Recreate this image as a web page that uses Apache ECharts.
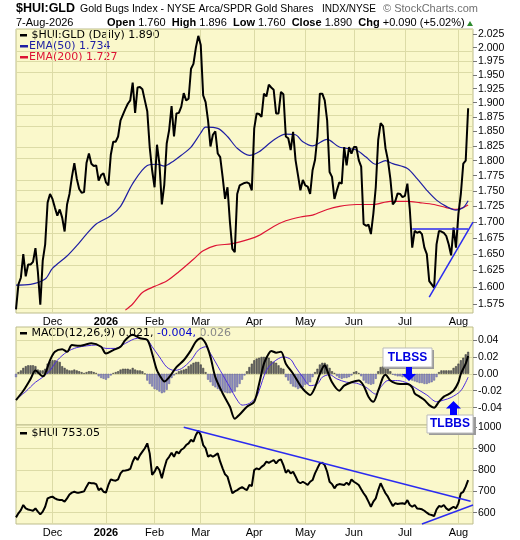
<!DOCTYPE html>
<html><head><meta charset="utf-8">
<script src="https://cdn.jsdelivr.net/npm/echarts@6/dist/echarts.min.js"></script>
<style>html,body{margin:0;padding:0;background:#fff;}#c{width:520px;height:540px;}</style>
</head><body><div id="c"></div>
<script>
// ---------- axis / categories ----------
const startDate = '2025-11-07';
const endDate = '2026-08-11';
const holidays = ['2025-11-27','2025-12-25','2026-01-01','2026-01-19','2026-02-16','2026-04-03','2026-05-25','2026-06-19','2026-07-03'];
const monthNames = ['Jan','Feb','Mar','Apr','May','Jun','Jul','Aug','Sep','Oct','Nov','Dec'];
const priceTicks = [1.575,1.600,1.625,1.650,1.675,1.700,1.725,1.750,1.775,1.800,1.825,1.850,1.875,1.900,1.925,1.950,1.975,2.000,2.025];
const macdTicks = [-0.04,-0.02,0,0.02,0.04];
const huiTicks = [600,700,800,900,1000];

// ---------- data ----------
const ratio = [1.567,1.604,1.614,1.650,1.616,1.634,1.634,1.638,1.659,1.623,1.574,1.640,1.665,1.731,1.745,1.737,1.723,1.710,1.720,1.707,
1.685,1.728,1.745,1.773,1.796,1.770,1.753,1.747,1.748,1.796,1.812,1.795,1.791,1.792,1.767,1.776,1.779,1.764,1.759,1.810,
1.832,1.832,1.841,1.869,1.879,1.889,1.898,1.904,1.936,1.882,1.927,1.928,1.924,1.904,1.885,1.823,1.784,1.756,1.827,1.795,
1.728,1.760,1.829,1.852,1.894,1.841,1.881,1.882,1.893,1.917,1.904,1.907,1.961,1.970,2.000,2.022,2.005,1.913,1.901,1.869,
1.824,1.844,1.850,1.812,1.806,1.773,1.737,1.756,1.700,1.658,1.653,1.745,1.759,1.761,1.763,1.764,1.762,1.751,1.855,1.881,
1.880,1.875,1.916,1.911,1.932,1.927,1.923,1.881,1.881,1.919,1.915,1.841,1.838,1.818,1.849,1.801,1.776,1.751,1.768,1.759,
1.757,1.745,1.784,1.801,1.841,1.916,1.916,1.904,1.869,1.781,1.773,1.737,1.751,1.764,1.762,1.823,1.792,1.823,1.812,1.823,
1.823,1.801,1.790,1.697,1.694,1.696,1.681,1.713,1.756,1.835,1.864,1.859,1.821,1.801,1.770,1.728,1.733,1.746,1.745,1.740,
1.742,1.762,1.720,1.660,1.686,1.683,1.685,1.681,1.660,1.650,1.609,1.604,1.599,1.665,1.686,1.685,1.683,1.678,1.665,1.648,
1.691,1.660,1.713,1.745,1.795,1.800,1.890];

const ema50 = [[0,1.603],[6,1.604],[12,1.612],[15,1.628],[21,1.647],[25,1.663],[29,1.681],[33,1.697],[39,1.710],[43,1.725],
[48,1.762],[54,1.792],[58,1.794],[61,1.791],[65,1.800],[68,1.809],[72,1.823],[76,1.847],[78,1.857],[83,1.855],[87,1.841],
[91,1.821],[96,1.809],[100,1.815],[106,1.835],[111,1.845],[115,1.844],[118,1.832],[122,1.825],[128,1.836],[133,1.823],
[140,1.818],[144,1.806],[148,1.794],[152,1.800],[155,1.795],[161,1.787],[165,1.770],[169,1.751],[173,1.735],[177,1.725],
[181,1.719],[184,1.723],[186,1.734]];

const ema200 = [[45,1.566],[48,1.575],[52,1.592],[57,1.601],[62,1.609],[67,1.623],[73,1.642],[77,1.655],[82,1.663],[89,1.666],
[96,1.673],[100,1.679],[106,1.693],[111,1.702],[117,1.708],[122,1.711],[128,1.720],[133,1.725],[140,1.728],[147,1.728],
[154,1.733],[161,1.733],[166,1.731],[172,1.728],[177,1.723],[181,1.720],[184,1.723],[186,1.727]];

const macd = [[0,-0.031],[3,-0.020],[6,-0.006],[8,0.004],[11,-0.003],[12,0.000],[14,0.016],[16,0.026],[19,0.029],[21,0.026],
[23,0.034],[26,0.033],[28,0.034],[31,0.036],[35,0.032],[37,0.024],[40,0.028],[43,0.032],[45,0.040],[48,0.046],[51,0.042],
[54,0.040],[56,0.024],[58,0.004],[60,-0.006],[61,-0.009],[63,-0.004],[66,0.008],[69,0.016],[72,0.028],[74,0.038],[76,0.042],
[78,0.036],[80,0.020],[82,-0.004],[85,-0.023],[88,-0.039],[90,-0.053],[92,-0.048],[95,-0.039],[98,-0.033],[100,-0.012],
[102,0.012],[104,0.024],[105,0.027],[107,0.025],[109,0.026],[111,0.012],[114,0.000],[117,-0.014],[119,-0.021],[121,-0.025],
[123,-0.016],[125,0.000],[127,0.010],[128,0.004],[130,-0.010],[133,-0.020],[135,-0.014],[138,-0.010],[141,-0.008],[143,-0.014],
[145,-0.027],[147,-0.033],[149,-0.020],[151,-0.004],[152,-0.001],[154,-0.008],[156,-0.011],[158,-0.012],[161,-0.012],
[163,-0.016],[164,-0.023],[166,-0.027],[168,-0.031],[170,-0.037],[172,-0.040],[174,-0.033],[176,-0.027],[178,-0.024],
[180,-0.020],[182,-0.010],[183,0.000],[185,0.012],[186,0.021]];

const signal = [[1,-0.028],[4,-0.021],[8,-0.010],[11,-0.004],[14,0.004],[17,0.016],[21,0.026],[25,0.031],[29,0.033],[33,0.034],
[37,0.030],[41,0.030],[45,0.036],[50,0.042],[54,0.040],[56,0.032],[59,0.020],[62,0.008],[65,0.004],[68,0.006],[72,0.016],
[75,0.028],[78,0.032],[80,0.024],[84,0.004],[88,-0.016],[91,-0.031],[93,-0.037],[96,-0.035],[99,-0.027],[100,-0.020],
[103,0.004],[106,0.014],[110,0.020],[113,0.017],[115,0.008],[118,-0.004],[121,-0.014],[124,-0.012],[126,-0.004],[129,-0.001],
[132,-0.006],[136,-0.010],[140,-0.011],[144,-0.016],[148,-0.024],[150,-0.016],[153,-0.008],[157,-0.008],[161,-0.011],
[165,-0.018],[169,-0.025],[173,-0.033],[176,-0.031],[179,-0.028],[183,-0.020],[186,-0.004]];

const hist = [-0.004,0.002,0.004,0.007,0.009,0.010,0.010,0.010,0.009,0.005,0.004,0.004,0.006,0.012,0.014,0.016,0.016,0.015,0.014,0.009,
0.007,0.005,0.004,0.004,0.005,0.004,0.003,0.002,0.001,0.002,0.003,0.003,0.002,0.001,-0.003,-0.005,-0.006,-0.007,-0.005,-0.002,
0.001,0.002,0.003,0.005,0.006,0.006,0.006,0.005,0.007,0.005,0.004,0.004,0.003,0.000,-0.008,-0.012,-0.015,-0.018,-0.019,-0.021,
-0.023,-0.022,-0.019,-0.012,-0.005,-0.002,0.001,0.003,0.004,0.005,0.006,0.009,0.011,0.013,0.014,0.014,0.011,0.007,0.002,-0.007,
-0.010,-0.014,-0.016,-0.018,-0.020,-0.021,-0.022,-0.023,-0.023,-0.022,-0.021,-0.016,-0.012,-0.007,-0.002,0.003,0.008,0.012,0.016,0.018,
0.019,0.020,0.020,0.020,0.019,0.015,0.014,0.013,0.010,0.007,0.006,-0.004,-0.008,-0.012,-0.015,-0.016,-0.018,-0.017,-0.016,-0.013,
-0.012,-0.010,-0.004,0.002,0.006,0.011,0.013,0.013,0.011,0.007,0.003,0.001,-0.003,-0.005,-0.006,-0.005,-0.005,-0.004,-0.002,0.002,
0.003,0.001,-0.003,-0.008,-0.011,-0.012,-0.013,-0.012,-0.006,0.003,0.008,0.009,0.008,0.006,0.003,-0.001,-0.002,-0.003,-0.003,-0.004,
-0.004,-0.005,-0.006,-0.008,-0.009,-0.010,-0.011,-0.011,-0.012,-0.012,-0.011,-0.010,-0.008,-0.004,0.002,0.004,0.004,0.004,0.004,0.004,
0.007,0.009,0.012,0.016,0.019,0.023,0.026];

const hui = [578,597,612,636,620,615,612,609,620,605,592,605,628,667,672,675,667,662,660,659,
652,667,685,694,698,694,694,697,700,722,741,738,738,734,706,714,698,694,730,756,
752,750,756,784,797,798,800,805,839,862,847,870,886,902,925,878,777,792,816,800,
761,808,847,862,881,862,886,878,895,902,917,925,941,933,964,984,964,917,902,862,
870,862,870,878,839,808,780,769,730,691,700,706,714,720,712,706,730,725,800,808,
803,815,823,839,834,840,847,831,845,850,823,787,800,784,792,770,745,738,745,738,
730,745,753,784,808,831,834,823,792,745,734,714,730,734,732,730,741,730,756,745,
738,730,710,691,675,652,628,652,667,706,738,714,691,675,652,631,644,641,643,644,
641,659,636,628,636,620,618,616,609,600,592,589,584,615,631,628,636,620,612,620,
628,620,644,691,698,722,753];

// trend lines drawn on the chart: [[index, value], [index, value]]
const ratioFlatLine = [[163,1.690],[186,1.690]];
const ratioRiseLine = [[170,1.585],[188,1.700]];
const huiFallLine = [[69,1000],[187,654]];
const huiRiseLine = [[167,547],[188,636]];

// ---------- build ----------
function tradingDays(s,e){
  const out=[]; let d=new Date(s+'T00:00:00Z'); const end=new Date(e+'T00:00:00Z');
  while(d<=end){ const wd=d.getUTCDay(); const iso=d.toISOString().slice(0,10);
    if(wd!==0&&wd!==6&&holidays.indexOf(iso)<0) out.push(iso);
    d=new Date(d.getTime()+86400000); }
  return out;
}
const categories = tradingDays(startDate,endDate);
const L = Math.log;
const FONT = '"Liberation Sans", Arial, sans-serif';
const VFONT = '"DejaVu Sans", Verdana, sans-serif';
const GRID_BG = '#FAF8CB', GRID_LINE = '#DCDBA6', FRAME = '#BDBD8C';

function monthStart(i){ return i>0 && categories[i].slice(5,7)!==categories[i-1].slice(5,7); }
function monthLabel(v){ const m=+v.slice(5,7); return m===1 ? '{y|'+v.slice(0,4)+'}' : monthNames[m-1]; }

function xAxisFor(gi, showLabel){
  return {type:'category', gridIndex:gi, data:categories, boundaryGap:false,
    axisLine:{show:false}, axisTick:{show:false},
    axisLabel:{show:showLabel, interval:(i)=>monthStart(i), formatter:monthLabel, color:'#000', fontSize:11, fontFamily:FONT, margin:3,
      rich:{y:{fontWeight:'bold', fontSize:11, fontFamily:FONT, color:'#000'}}},
    splitLine:{show:true, interval:(i)=>monthStart(i), lineStyle:{color:GRID_LINE, width:1}}};
}
function yAxisFor(gi, min, max, vals, fmt){
  return {type:'value', gridIndex:gi, position:'right', min:min, max:max,
    axisLine:{show:false}, splitLine:{show:false},
    axisTick:{show:true, length:4, customValues:vals, lineStyle:{color:'#777'}},
    axisLabel:{customValues:vals, formatter:fmt, color:'#000', fontSize:10.5, fontFamily:FONT, margin:5}};
}
function gridLines(xi, yi, vals){
  return {type:'line', xAxisIndex:xi, yAxisIndex:yi, data:[], silent:true,
    markLine:{silent:true, z:1, symbol:['none','none'], label:{show:false}, animation:false,
      lineStyle:{color:GRID_LINE, width:1, type:'solid'}, data:vals.map(v=>({yAxis:v}))}};
}
function trend(xi, yi, lines, mapY){
  return {type:'line', xAxisIndex:xi, yAxisIndex:yi, data:[], silent:true, z:10,
    markLine:{silent:true, z:10, symbol:['none','none'], label:{show:false}, animation:false,
      lineStyle:{color:'#2B2BF0', width:1.5, type:'solid'},
      data:lines.map(l=>[{coord:[l[0][0], mapY(l[0][1])]},{coord:[l[1][0], mapY(l[1][1])]}])}};
}
const lnPair = p => [p[0], L(p[1])];

const option = {
  animation:false,
  backgroundColor:'#fff',
  grid:[
    {left:16, right:47, top:29, height:284, show:true, backgroundColor:GRID_BG, borderColor:FRAME, borderWidth:1},
    {left:16, right:47, top:327, height:98, show:true, backgroundColor:GRID_BG, borderColor:FRAME, borderWidth:1},
    {left:16, right:47, top:425, height:99, show:true, backgroundColor:GRID_BG, borderColor:FRAME, borderWidth:1}
  ],
  xAxis:[xAxisFor(0,true), xAxisFor(1,false), xAxisFor(2,true)],
  yAxis:[
    yAxisFor(0, L(1.5618), L(2.035), priceTicks.map(L), v=>Math.exp(v).toFixed(3)),
    yAxisFor(1, -0.0605, 0.0553, macdTicks, v=>(Math.abs(v)<1e-9?0:v).toFixed(2)),
    yAxisFor(2, 547, 1011, huiTicks, v=>String(Math.round(v)))
  ],
  series:[
    gridLines(0,0,priceTicks.map(L)),
    gridLines(1,1,macdTicks),
    gridLines(2,2,huiTicks),
    {type:'line', name:'EMA200', xAxisIndex:0, yAxisIndex:0, data:ema200.map(lnPair), smooth:0.3, showSymbol:false, z:3,
      lineStyle:{color:'#DD1435', width:1.2}},
    {type:'line', name:'EMA50', xAxisIndex:0, yAxisIndex:0, data:ema50.map(lnPair), smooth:0.3, showSymbol:false, z:3,
      lineStyle:{color:'#1F1FA3', width:1.2}},
    {type:'line', name:'ratio', xAxisIndex:0, yAxisIndex:0, data:ratio.map(L), showSymbol:false, z:4,
      lineStyle:{color:'#000', width:2}},
    trend(0,0,[ratioFlatLine, ratioRiseLine], L),
    {type:'bar', name:'hist', xAxisIndex:1, yAxisIndex:1, barWidth:2, z:2,
      data:hist.map(v=>({value:v, itemStyle:{color: v>=0?'#6A6A6A':'#8F8FC6', borderColor: v>=0?'#333':'#5F5F95', borderWidth:0.5}}))},
    {type:'line', name:'signal', xAxisIndex:1, yAxisIndex:1, data:signal, smooth:0.3, showSymbol:false, z:3,
      lineStyle:{color:'#4B2BE0', width:1}},
    {type:'line', name:'macd', xAxisIndex:1, yAxisIndex:1, data:macd, smooth:0.3, showSymbol:false, z:4,
      lineStyle:{color:'#000', width:2}},
    {type:'line', name:'hui', xAxisIndex:2, yAxisIndex:2, data:hui, showSymbol:false, z:4,
      lineStyle:{color:'#000', width:2}},
    trend(2,2,[huiFallLine, huiRiseLine], v=>v)
  ],
  graphic:[
    {type:'text', style:{x:16, y:9, text:'$HUI:GLD', font:'bold 12.5px '+FONT, fill:'#000', verticalAlign:'middle'}},
    {type:'text', style:{x:80, y:9, text:'Gold Bugs Index - NYSE Arca/SPDR Gold Shares', font:'10.5px '+FONT, fill:'#000', verticalAlign:'middle'}},
    {type:'text', style:{x:322, y:9.5, text:'INDX/NYSE', font:'10px '+FONT, fill:'#000', verticalAlign:'middle'}},
    {type:'text', style:{x:383, y:9, text:'\u00A9 StockCharts.com', font:'11px '+FONT, fill:'#707070', verticalAlign:'middle'}},
    {type:'text', style:{x:16, y:22.5, text:'7-Aug-2026', font:'11px '+FONT, fill:'#000', verticalAlign:'middle'}},
    {type:'text', style:{x:107, y:22.5, font:'11px '+FONT, fill:'#000', verticalAlign:'middle',
      text:'{b|Open} 1.760  {b|High} 1.896  {b|Low} 1.760  {b|Close} 1.890  {b|Chg} +0.090 (+5.02%)',
      rich:{b:{font:'bold 11px '+FONT, fill:'#000'}}}},
    {type:'polygon', shape:{points:[[467,26],[473,26],[470,21]]}, style:{fill:'#2E8B2E'}},
    // legends
    {type:'rect', shape:{x:20, y:34, width:7, height:2.5}, style:{fill:'#000'}},
    {type:'text', style:{x:31.5, y:35.5, text:'$HUI:GLD (Daily) 1.890', font:'11px '+VFONT, fill:'#000', verticalAlign:'middle'}},
    {type:'rect', shape:{x:20, y:45, width:8, height:2.5}, style:{fill:'#1F1FA3'}},
    {type:'text', style:{x:29, y:46.5, text:'EMA(50) 1.734', font:'11px '+VFONT, fill:'#1F1FA3', verticalAlign:'middle'}},
    {type:'rect', shape:{x:20, y:56, width:8, height:2.5}, style:{fill:'#DD1435'}},
    {type:'text', style:{x:29, y:57.5, text:'EMA(200) 1.727', font:'11px '+VFONT, fill:'#DD1435', verticalAlign:'middle'}},
    {type:'rect', shape:{x:20, y:332, width:7, height:2.5}, style:{fill:'#000'}},
    {type:'text', style:{x:31.5, y:333.5, font:'11px '+VFONT, fill:'#000', verticalAlign:'middle',
      text:'{k|MACD(12,26,9) 0.021,} {b|-0.004,} {g|0.026}',
      rich:{k:{font:'11px '+VFONT, fill:'#000'}, b:{font:'11px '+VFONT, fill:'#0000CC'}, g:{font:'11px '+VFONT, fill:'#888'}}}},
    {type:'rect', shape:{x:20, y:432, width:7, height:2.5}, style:{fill:'#000'}},
    {type:'text', style:{x:31.5, y:433.5, text:'$HUI 753.05', font:'11px '+VFONT, fill:'#000', verticalAlign:'middle'}},
    // annotations
    {type:'rect', z:20, shape:{x:385, y:350, width:49, height:19}, style:{fill:'#9A9A9A'}},
    {type:'rect', z:21, shape:{x:383, y:348, width:49, height:19}, style:{fill:'#fff', stroke:'#BBBBBB', lineWidth:1}},
    {type:'text', z:22, style:{x:407.5, y:357.5, text:'TLBSS', font:'bold 12px '+FONT, fill:'#0000E0', align:'center', verticalAlign:'middle'}},
    {type:'polygon', z:22, shape:{points:[[406,367],[412,367],[412,374],[416,374],[409,381],[402,374],[406,374]]}, style:{fill:'#0000FF'}},
    {type:'rect', z:20, shape:{x:429, y:417, width:47, height:18}, style:{fill:'#9A9A9A'}},
    {type:'rect', z:21, shape:{x:427, y:415, width:46, height:18}, style:{fill:'#fff', stroke:'#BBBBBB', lineWidth:1}},
    {type:'text', z:22, style:{x:450, y:424, text:'TLBBS', font:'bold 12px '+FONT, fill:'#0000E0', align:'center', verticalAlign:'middle'}},
    {type:'polygon', z:22, shape:{points:[[453.5,401],[461,408.5],[457,408.5],[457,415],[450,415],[450,408.5],[446,408.5]]}, style:{fill:'#0000FF'}}
  ]
};
const chart = echarts.init(document.getElementById('c'), null, {renderer:'canvas'});
chart.setOption(option);
</script>
</body></html>
